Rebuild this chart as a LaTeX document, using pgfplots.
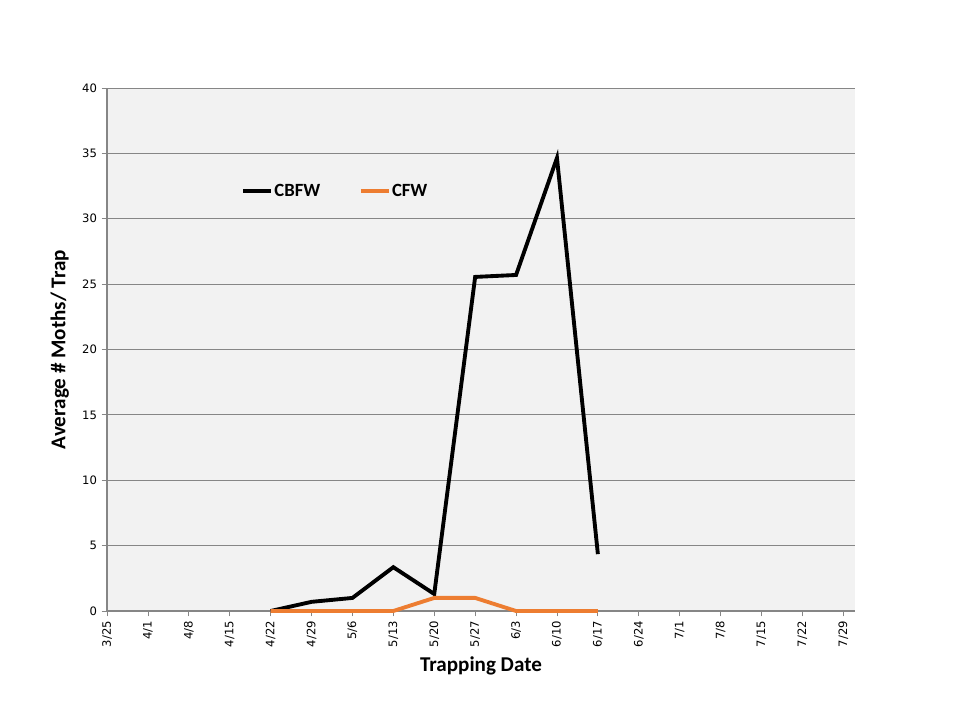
\documentclass[border=0pt]{standalone}
\usepackage{pgfplots}
\pgfplotsset{compat=1.18}
\usepackage{fontspec}
\setmainfont{Carlito}
\newfontfamily\tickfont{DejaVu Sans}
\definecolor{cfw}{HTML}{ED7D31}
\definecolor{gridc}{HTML}{868686}
\definecolor{bgc}{HTML}{F2F2F2}
\begin{document}
\begin{tikzpicture}
\begin{axis}[
  scale only axis,
  width=561pt, height=392.25pt,
  xmin=0, xmax=128, ymin=0, ymax=40,
  axis background/.style={fill=bgc},
  axis x line*=bottom, axis y line*=left,
  axis line style={gridc, line width=0.8pt},
  x axis line style={-}, y axis line style={-},
  xtick={0,7,...,126},
  xticklabels={3/25,4/1,4/8,4/15,4/22,4/29,5/6,5/13,5/20,5/27,6/3,6/10,6/17,6/24,7/1,7/8,7/15,7/22,7/29},
  ytick={0,5,...,40},
  ymajorgrids, major grid style={gridc, line width=0.6pt},
  tick style={gridc, line width=0.6pt},
  tick align=outside, major tick length=4pt,
  x tick label style={rotate=90, anchor=east, font=\tickfont\fontsize{8.7}{10}\selectfont},
  y tick label style={font=\tickfont\fontsize{8.7}{10}\selectfont},
  /pgf/number format/assume math mode=true,
  xlabel={\bfseries Trapping Date},
  ylabel={\bfseries Average \# Moths/ Trap},
  xlabel style={font=\fontsize{15.8}{18}\selectfont, at={(rel axis cs:0.5,0)}, anchor=north, yshift=-31pt},
  ylabel style={font=\fontsize{15.8}{18}\selectfont, at={(rel axis cs:0,0.5)}, anchor=south, yshift=25pt},
  legend style={draw=none, fill=none, at={(rel axis cs:0.174,0.803)}, anchor=west,
    font=\bfseries\fontsize{14}{16}\selectfont, legend columns=2,
    nodes={inner xsep=1pt},
    /tikz/every even column/.append style={column sep=28pt}},
  legend image code/.code={\draw[#1, line width=2.8pt] (0pt,0pt) -- (21pt,0pt);},
  clip=false,
]
\addplot[black, line width=2.9pt, line join=miter] coordinates {
 (28,0) (35,0.7) (42,1.0) (49,3.35) (56,1.3) (63,25.55) (70,25.7) (77,34.65) (84,4.35)};
\addlegendentry{CBFW}
\addplot[cfw, line width=2.9pt] coordinates {
 (28,0) (35,0) (42,0) (49,0) (56,1) (63,1) (70,0) (77,0) (84,0)};
\addlegendentry{CFW}
\coordinate (sw) at (rel axis cs:0,0);
\coordinate (ne) at (rel axis cs:1,1);
\end{axis}
\path[use as bounding box] ([xshift=-80.25pt,yshift=-81.75pt]sw) rectangle ([xshift=78.75pt,yshift=66pt]ne);
\end{tikzpicture}
\end{document}
